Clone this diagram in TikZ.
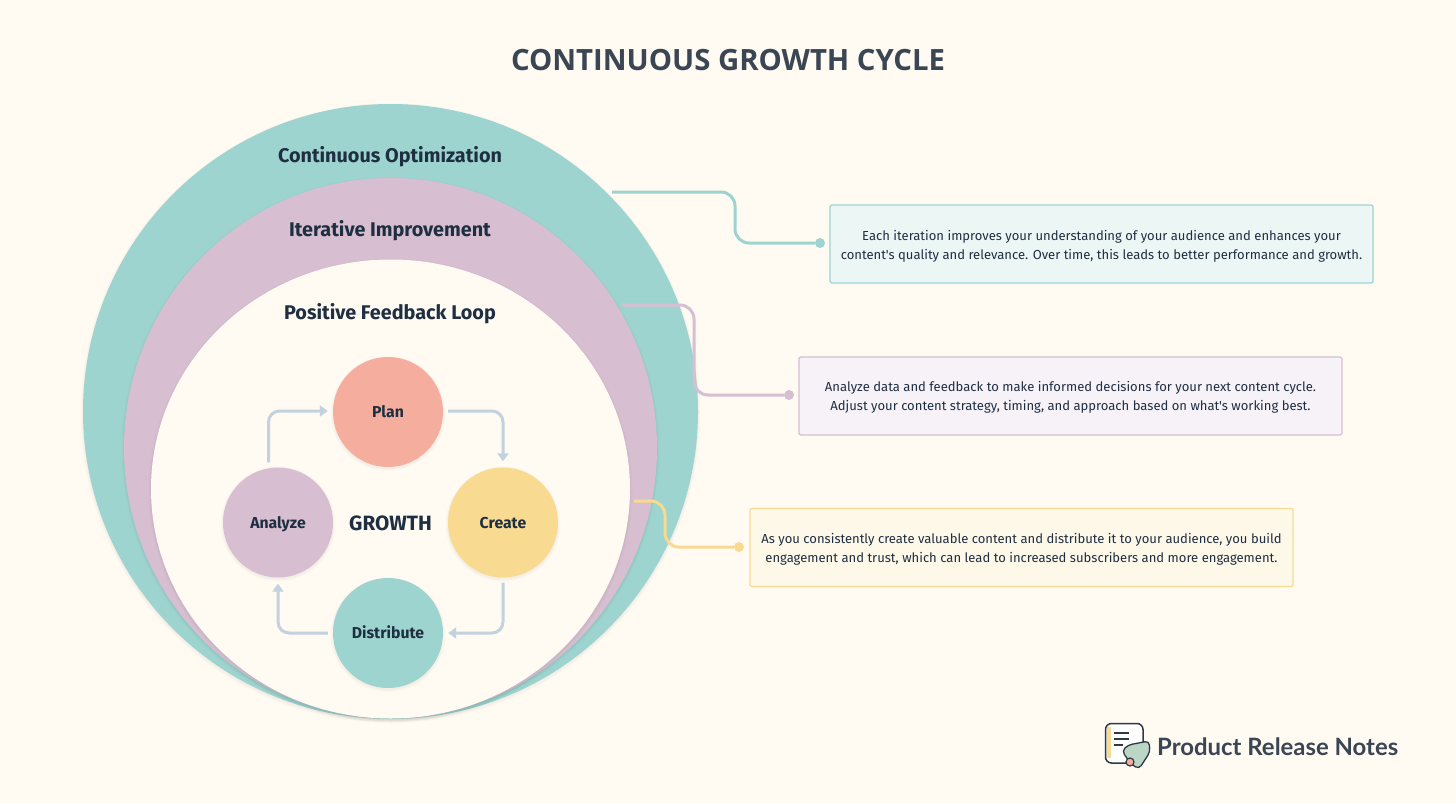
\documentclass[tikz,border=0pt]{standalone}
\usepackage{fontspec}
\setmainfont{Fira Sans}[Ligatures=TeXOff]
\newfontfamily\titlefont{Open Sans}
\newfontfamily\logofont{Lato}
\usetikzlibrary{shapes.geometric,arrows.meta,calc}
\definecolor{bgc}{HTML}{FFFAF2}
\definecolor{tealc}{HTML}{9ED4CF}
\definecolor{pinkc}{HTML}{D7BFD1}
\definecolor{salmonc}{HTML}{F5AE9D}
\definecolor{yellowc}{HTML}{F9DA91}
\definecolor{inkc}{HTML}{1F2F42}
\definecolor{titlec}{HTML}{3A4653}
\definecolor{flowc}{HTML}{C2D2DE}
\definecolor{tealbox}{HTML}{ECF7F5}
\definecolor{pinkbox}{HTML}{F6F2F8}
\definecolor{yellowbox}{HTML}{FEF8E9}
\definecolor{logoline}{HTML}{2D3A46}
\definecolor{logogreen}{HTML}{BCD6C5}
\newcommand{\softshade}[4]{%
  \foreach \d in {3,2,1}{\fill[black,opacity=.014] (#1,#2+1.5) ellipse [x radius=#3+\d-.5,y radius=#4+\d-.5];}}
\tikzset{
  x=1pt,y=-1pt,
  ring/.style={ellipse,inner sep=0pt,draw=none},
  stage/.style={circle,inner sep=0pt,minimum size=110pt,text=inkc,text height=12.5pt,text depth=1.5pt,font=\fontsize{15.8}{17}\selectfont\bfseries},
  ringlabel/.style={text=inkc,font=\fontsize{19.8}{22}\selectfont\bfseries,inner sep=0pt},
  flow/.style={draw=flowc,line width=3pt,rounded corners=11pt,-{Triangle[length=8pt,width=11pt]}},
  lead/.style={line width=3pt,rounded corners=14pt},
  leaddot/.style={circle,inner sep=0pt,minimum size=10pt},
  notebox/.style={rectangle,rounded corners=1.5pt,line width=1.3pt,minimum width=543pt,minimum height=78pt,inner sep=0pt},
  notetext/.style={inner sep=0pt,align=center,text=inkc,font=\fontsize{13.05}{19}\selectfont},
}
\begin{document}
\begin{tikzpicture}
\useasboundingbox (0,0) rectangle (1456,803);
\fill[bgc] (0,0) rectangle (1456,803);
\node[text=titlec,font=\titlefont\fontsize{29.3}{32}\selectfont\bfseries,inner sep=0pt] (title) at (728,60) {CONTINUOUS GROWTH CYCLE};
% rings
\softshade{390.5}{411.5}{307.5}{307.5}
\node[ring,fill=tealc,minimum width=615pt,minimum height=615pt] (outer) at (390.5,411.5) {};
\softshade{390.5}{448}{266.5}{270}
\node[ring,fill=pinkc,minimum width=533pt,minimum height=540pt] (middle) at (390.5,448) {};
\softshade{390.5}{489}{239.5}{229.5}
\node[ring,fill=bgc,minimum width=479pt,minimum height=459pt] (inner) at (390.5,489) {};
\node[ringlabel] (l1) at (390,157) {Continuous Optimization};
\node[ringlabel] (l2) at (390,231) {Iterative Improvement};
\node[ringlabel] (l3) at (390,314) {Positive Feedback Loop};
% stages
\softshade{388}{412}{55}{55}
\node[stage,fill=salmonc] (plan) at (388,412) {Plan};
\softshade{503}{522.5}{55}{55}
\node[stage,fill=yellowc] (create) at (503,522.5) {Create};
\softshade{388}{633}{55}{55}
\node[stage,fill=tealc] (dist) at (388,633) {Distribute};
\softshade{278}{522.5}{55}{55}
\node[stage,fill=pinkc] (analyze) at (278,522.5) {Analyze};
\node[text=inkc,font=\fontsize{20.7}{22}\selectfont\bfseries,inner sep=0pt] (growth) at (390.5,523) {GROWTH};
% cycle arrows
\draw[flow] ([xshift=-9.5pt,yshift=5pt]analyze.north) |- ([xshift=-5pt,yshift=1pt]plan.west);
\draw[flow] ([xshift=5pt,yshift=1pt]plan.east) -| ([yshift=6pt]create.north);
\draw[flow] ([yshift=-5pt]create.south) |- ([xshift=5pt]dist.east);
\draw[flow] ([xshift=-5pt]dist.west) -| ([yshift=-6pt]analyze.south);
% note boxes
\node[notebox,draw=tealc,fill=tealbox] (n1) at (1101.5,244) {};
\node[notetext] (t1) at (1101.5,246) {Each iteration improves your understanding of your audience and enhances your\\content's quality and relevance. Over time, this leads to better performance and growth.};
\node[notebox,draw=pinkc,fill=pinkbox] (n2) at (1070.5,396) {};
\node[notetext] (t2) at (1070.5,397.5) {Analyze data and feedback to make informed decisions for your next content cycle.\\Adjust your content strategy, timing, and approach based on what's working best.};
\node[notebox,draw=yellowc,fill=yellowbox] (n3) at (1021.5,547.5) {};
\node[notetext] (t3) at (1021.5,549) {As you consistently create valuable content and distribute it to your audience, you build\\engagement and trust, which can lead to increased subscribers and more engagement.};
% leaders
\node[leaddot,fill=tealc] (d1) at (820,243) {};
\node[leaddot,fill=pinkc] (d2) at (789,395) {};
\node[leaddot,fill=yellowc] (d3) at (739,547) {};
\coordinate (s1) at (612,192); \coordinate (a1) at (735,192); \coordinate (b1) at (735,243);
\coordinate (s2) at (622,305); \coordinate (a2) at (694,305); \coordinate (b2) at (694,395);
\coordinate (s3) at (634,501); \coordinate (a3) at (665,501); \coordinate (b3) at (665,547);
\draw[lead,draw=tealc] (s1) -- (a1) -- (b1) -- (d1);
\draw[lead,draw=pinkc] (s2) -- (a2) -- (b2) -- (d2);
\draw[lead,draw=yellowc] (s3) -- (a3) -- (b3) -- (d3);
% logo
\draw[draw=logoline,fill=white,line width=1.5pt,rounded corners=6pt] (1105.5,723.5) rectangle (1143,763);
\fill[yellowc] (1106.5,727) rectangle (1111,758);
\draw[logoline,line width=1.2pt] (1114,733) -- (1129,733) (1114,739) -- (1129,739) (1114,745) -- (1123,745);
\draw[draw=logoline,fill=logogreen,line width=1.3pt,rounded corners=4pt] (1122,751) -- (1128,745) -- (1149,741) -- (1150,752) -- (1139,769) -- (1131,764) -- cycle;
\draw[draw=logoline,fill=salmonc,line width=1.2pt] (1130,762) circle [radius=4];
\node[anchor=west,text=titlec,font=\logofont\fontsize{23.9}{28}\selectfont\bfseries,inner sep=0pt] (brand) at (1157,747) {Product Release Notes};
\end{tikzpicture}
\end{document}
